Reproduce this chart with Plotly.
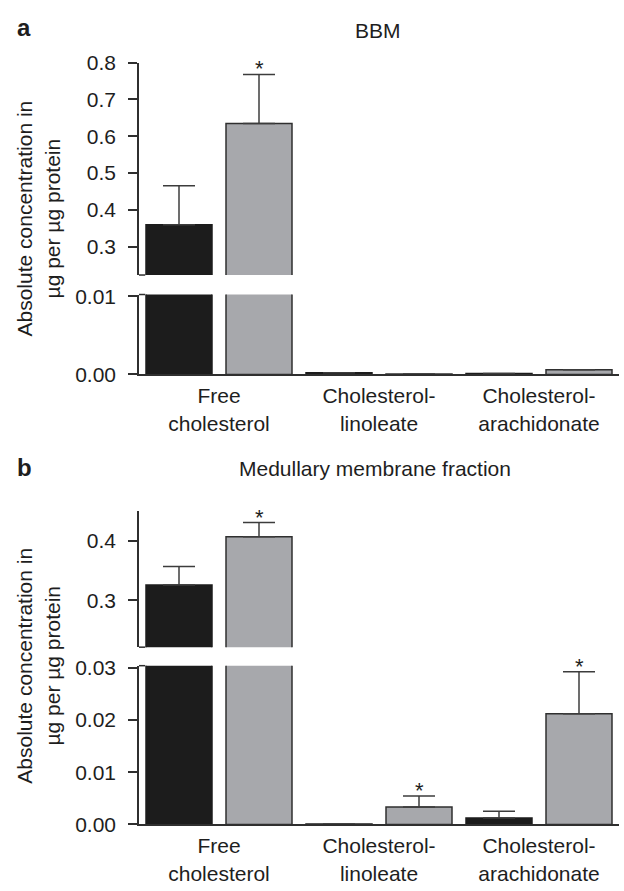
import plotly.graph_objects as go

# ---------------- data ----------------
categories = ["Free<br>cholesterol", "Cholesterol-<br>linoleate", "Cholesterol-<br>arachidonate"]

# Panel a: BBM
a_black = [0.360, 0.0002, 0.0001]
a_black_err = [0.106, 0.0, 0.0]
a_gray = [0.635, 0.00005, 0.0006]
a_gray_err = [0.133, 0.0, 0.0]
a_sig = [True, False, False]

# Panel b: Medullary membrane fraction
b_black = [0.326, 0.0001, 0.00125]
b_black_err = [0.031, 0.0, 0.0013]
b_gray = [0.407, 0.00335, 0.0212]
b_gray_err = [0.024, 0.0021, 0.0080]
b_sig = [True, True, True]

a_upper_ticks = [0.3, 0.4, 0.5, 0.6, 0.7, 0.8]
a_lower_ticks = [0.00, 0.01]
b_upper_ticks = [0.3, 0.4]
b_lower_ticks = [0.00, 0.01, 0.02, 0.03]

# ---------------- style ----------------
W, H = 624, 891
FONT = "Liberation Sans, Arial, sans-serif"
FS = 21
TXT = "#1e1e1e"
BLACK = "#1c1c1c"
GRAY = "#a7a8ac"
EDGE = "#2f2f2f"
ERR = "#3c3c3c"

def py(px):
    return 1 - px / H

def px_x(px):
    return px / W

X_DOM = [px_x(139), px_x(619)]

# vertical pixel layout of axes (top, bottom)
a_up_px = (52, 270)
a_lo_px = (290, 372)
b_up_px = (512, 652)
b_lo_px = (671, 834)

a_up_range = [0.2233, 0.8]
a_lo_range = [0, 0.01025]
b_up_range = [0.2213, 0.4508]
b_lo_range = [0, 0.03037]

fig = go.Figure()

def bars(vals, errs, color, xa, ya, name):
    return go.Bar(
        x=categories, y=vals, name=name, xaxis=xa, yaxis=ya,
        marker=dict(color=color, line=dict(color=EDGE if color == GRAY else BLACK, width=1.5)),
        error_y=dict(type="data", array=errs, arrayminus=[0] * len(errs), symmetric=False,
                     color=ERR, thickness=1.5, width=16),
        showlegend=False, cliponaxis=True,
    )

for ya in ["y", "y2"]:
    fig.add_trace(bars(a_black, a_black_err, BLACK, "x", ya, "control"))
    fig.add_trace(bars(a_gray, a_gray_err, GRAY, "x", ya, "treated"))
for ya in ["y3", "y4"]:
    fig.add_trace(bars(b_black, b_black_err, BLACK, "x2", ya, "control"))
    fig.add_trace(bars(b_gray, b_gray_err, GRAY, "x2", ya, "treated"))

axis_common = dict(showline=True, linecolor=EDGE, linewidth=1.5, showgrid=False, zeroline=False,
                   ticks="outside", ticklen=9, tickwidth=1.5, tickcolor=EDGE,
                   ticklabelstandoff=8,
                   tickfont=dict(family=FONT, size=FS, color=TXT))

xcommon = dict(showline=True, linecolor=EDGE, linewidth=1.5, showgrid=False, zeroline=False,
               ticks="", tickfont=dict(family=FONT, size=FS, color=TXT), ticklabelstandoff=2,
               domain=X_DOM, range=[-0.5, 2.5], type="category")

fig.update_layout(
    width=W, height=H, margin=dict(l=0, r=0, t=0, b=0),
    paper_bgcolor="white", plot_bgcolor="white",
    barmode="group", bargap=0.0, bargroupgap=0.175,
    font=dict(family=FONT, size=FS, color=TXT),
    xaxis=dict(**xcommon, anchor="y2"),
    xaxis2=dict(**xcommon, anchor="y4"),
    yaxis=dict(**axis_common, anchor="x", domain=[py(a_up_px[1]), py(a_up_px[0])],
               range=a_up_range, tickvals=a_upper_ticks, tickformat=".1f"),
    yaxis2=dict(**axis_common, anchor="x", domain=[py(a_lo_px[1]), py(a_lo_px[0])],
                range=a_lo_range, tickvals=a_lower_ticks, tickformat=".2f"),
    yaxis3=dict(**axis_common, anchor="x2", domain=[py(b_up_px[1]), py(b_up_px[0])],
                range=b_up_range, tickvals=b_upper_ticks, tickformat=".1f"),
    yaxis4=dict(**axis_common, anchor="x2", domain=[py(b_lo_px[1]), py(b_lo_px[0])],
                range=b_lo_range, tickvals=b_lower_ticks, tickformat=".2f"),
)

# break feet on the y axis
for xr, yr, yv in [("x", "y", 0), ("x", "y2", 1), ("x2", "y3", 0), ("x2", "y4", 1)]:
    fig.add_shape(type="line", xref=f"{xr} domain", yref=f"{yr} domain",
                  x0=0, x1=0.013, y0=yv, y1=yv, line=dict(color=EDGE, width=1.5))

ann = []
# panel letters and titles
ann.append(dict(text="<b>a</b>", x=px_x(24), y=py(16), xref="paper", yref="paper",
                showarrow=False, font=dict(size=24, color=TXT), xanchor="center", yanchor="middle"))
ann.append(dict(text="<b>b</b>", x=px_x(24), y=py(468), xref="paper", yref="paper",
                showarrow=False, font=dict(size=24, color=TXT), xanchor="center", yanchor="middle"))
ann.append(dict(text="BBM", x=px_x(378), y=py(19), xref="paper", yref="paper",
                showarrow=False, font=dict(size=FS, color=TXT), xanchor="center", yanchor="middle"))
ann.append(dict(text="Medullary membrane fraction", x=px_x(375), y=py(469), xref="paper", yref="paper",
                showarrow=False, font=dict(size=FS, color=TXT), xanchor="center", yanchor="middle"))
ytitle = "Absolute concentration in<br>µg per µg protein"
for yc in [212, 671]:
    ann.append(dict(text=ytitle, x=px_x(38), y=py(yc), xref="paper", yref="paper", textangle=-90,
                    showarrow=False, font=dict(size=FS, color=TXT), xanchor="center", yanchor="middle"))

# significance stars
def stars(vals, errs, sig, xr, y_up, y_lo, lo_top):
    for i, s in enumerate(sig):
        if not s:
            continue
        top = vals[i] + errs[i]
        yr = y_lo if top <= lo_top else y_up
        ann.append(dict(text="*", x=i + 0.25, y=top, xref=xr, yref=yr, showarrow=False,
                        font=dict(size=22, color=TXT), xanchor="center", yanchor="bottom", yshift=-9))

stars(a_gray, a_gray_err, a_sig, "x", "y", "y2", a_lo_range[1])
stars(b_gray, b_gray_err, b_sig, "x2", "y3", "y4", b_lo_range[1])

fig.update_layout(annotations=ann)
fig.write_html("out.html")
